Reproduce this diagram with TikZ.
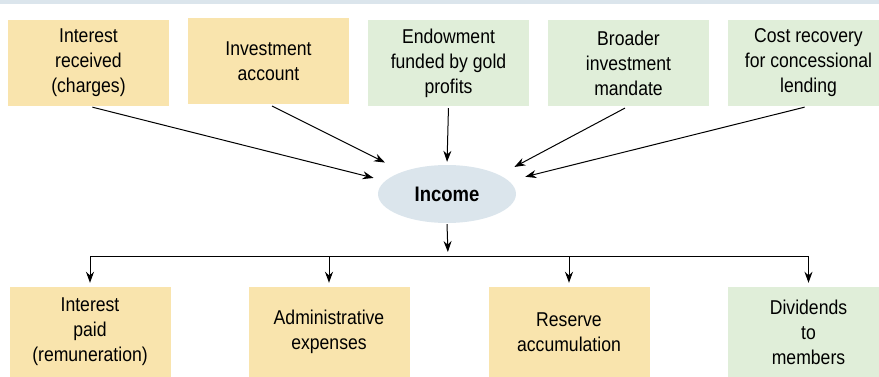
\documentclass[tikz,border=0pt]{standalone}
\usepackage{fontspec}
\setmainfont{Liberation Sans}[FakeStretch=0.88]
\usetikzlibrary{shapes.geometric,arrows.meta}
\definecolor{tan}{HTML}{F9E4AD}
\definecolor{mint}{HTML}{E0EED9}
\definecolor{haze}{HTML}{DBE5EC}

\begin{document}
\begin{tikzpicture}[x=1pt,y=-1pt,
  every node/.style={minimum width=161pt,minimum height=86pt,inner sep=0pt,align=center,
    font=\fontsize{20}{25}\selectfont},
  srcbox/.style={fill=tan},
  govbox/.style={fill=mint},
  arr/.style={-{Stealth[length=11pt,width=8pt]},line width=1pt}]
\useasboundingbox (0,0) rectangle (879,377);
\fill[haze] (0,0) rectangle (879,4);
  \node[srcbox] (r1) at (88.5,63) {Interest\\received\\(charges)};
  \node[srcbox] (r2) at (268.5,61) {Investment\\account};
  \node[govbox] (r3) at (448.5,63) {Endowment\\funded by gold\\profits};
  \node[govbox] (r4) at (628.5,63) {Broader\\investment\\mandate};
  \node[govbox] (r5) at (808.5,63) {Cost recovery\\for concessional\\lending};
  \node[ellipse,fill=haze,minimum width=138pt,minimum height=58pt,
    font=\fontsize{21}{25}\bfseries\selectfont] (inc) at (447,194) {Income};
  \node[srcbox,minimum height=90pt] (p1) at (90,332) {Interest\\paid\\(remuneration)};
  \node[srcbox,minimum height=90pt] (p2) at (329,332) {Administrative\\expenses};
  \node[srcbox,minimum height=90pt] (p3) at (569,332) {Reserve\\accumulation};
  \node[govbox,minimum height=90pt] (p4) at (808.5,332) {Dividends\\to\\members};
  \coordinate (bus) at (448,256);
\draw[arr,shorten <=4pt,shorten >=12pt] (r1.south) -- (inc.168);
\draw[arr,shorten <=4pt,shorten >=20pt] (r2.south) -- (inc.153);
\draw[arr,shorten <=2pt,shorten >=3pt] (r3.south) -- (inc.north);
\draw[arr,shorten <=4pt,shorten >=17pt] (r4.south) -- (inc.20);
\draw[arr,shorten <=4pt,shorten >=17pt] (r5.south) -- (inc.12);
\draw[arr,shorten <=1pt,shorten >=4pt] (inc.south) -- (bus);
\draw[line width=1pt] (p1.north |- bus) -- (p4.north |- bus);
\foreach \p in {p1,p2,p3,p4}
  \draw[arr,shorten >=4pt] (\p.north |- bus) -- (\p.north);
\end{tikzpicture}
\end{document}
